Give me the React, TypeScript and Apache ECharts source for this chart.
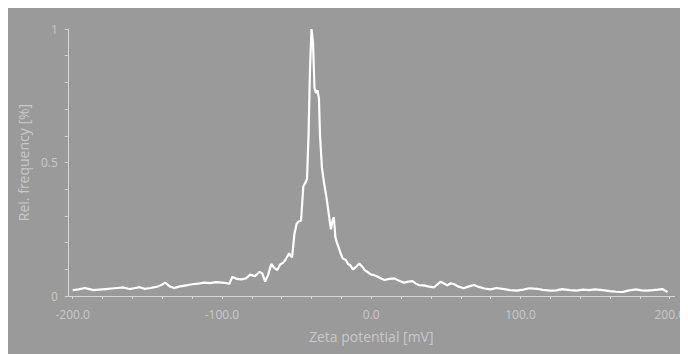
import React, { useEffect, useRef } from "react";
import * as echarts from "echarts";

const zetaMv = [
  -200, -196, -192, -189, -186, -182, -178, -174, -170, -166, -162, -158, -155, -152, -148, -144, -141, -138, -135, -132,
  -128, -124, -120, -116, -112, -108, -104, -100, -97, -95, -93, -90, -87, -84, -81, -78, -75, -73, -71, -69,
  -67, -65, -63, -61, -59, -57.5, -56, -55, -54, -53, -51.5, -50, -48.5, -47, -45.5, -44, -43, -42, -41, -40,
  -39, -38, -37, -36, -35, -34.3, -33, -31.5, -30, -28.5, -27, -26, -25, -24, -23, -22, -20.5, -19, -17, -15.5,
  -14, -12.2, -10, -8, -6, -4.4, -2, 0, 2, 4.4, 7, 9, 12, 15.6, 19, 22, 25, 27.7, 30, 32,
  35, 38, 42, 44, 46.6, 49, 51, 53, 55.5, 58, 62, 65, 68.8, 72, 76, 80, 84, 89, 93, 97.6,
  102, 106, 111, 115, 120, 124, 128, 133, 137.5, 142, 146, 150, 155, 160, 164, 168.6, 172, 177.5, 181, 185,
  188.6, 192, 195, 198.5,
];

const relFreq = [
  0.022, 0.025, 0.03, 0.026, 0.022, 0.024, 0.026, 0.028, 0.03, 0.032, 0.026, 0.03, 0.033, 0.027, 0.03, 0.034, 0.04, 0.05, 0.036, 0.03,
  0.036, 0.04, 0.044, 0.046, 0.05, 0.048, 0.052, 0.05, 0.048, 0.046, 0.072, 0.064, 0.062, 0.066, 0.08, 0.074, 0.09, 0.085, 0.054, 0.08,
  0.12, 0.105, 0.097, 0.118, 0.125, 0.135, 0.15, 0.16, 0.15, 0.145, 0.23, 0.27, 0.28, 0.282, 0.41, 0.425, 0.44, 0.6, 0.85, 1.0,
  0.95, 0.78, 0.76, 0.77, 0.74, 0.6, 0.48, 0.42, 0.37, 0.31, 0.25, 0.28, 0.295, 0.22, 0.2, 0.185, 0.16, 0.14, 0.135, 0.12,
  0.115, 0.1, 0.11, 0.122, 0.11, 0.097, 0.088, 0.08, 0.078, 0.072, 0.065, 0.06, 0.064, 0.066, 0.056, 0.05, 0.054, 0.056, 0.046, 0.041,
  0.04, 0.036, 0.032, 0.042, 0.054, 0.046, 0.04, 0.047, 0.045, 0.036, 0.029, 0.035, 0.041, 0.034, 0.028, 0.025, 0.03, 0.026, 0.022, 0.02,
  0.024, 0.029, 0.027, 0.023, 0.02, 0.021, 0.026, 0.022, 0.02, 0.024, 0.022, 0.025, 0.022, 0.018, 0.016, 0.015, 0.02, 0.025, 0.021, 0.02,
  0.022, 0.024, 0.026, 0.015,
];

const xTickValues = [-200, -180, -160, -140, -120, -100, -80, -60, -40, -20, 0, 20, 40, 60, 80, 100, 120, 140, 160, 180, 200];
const xLabelValues = [-200, -100, 0, 100, 200];
const yLabelValues = [0, 0.5, 1];

const TEXT = "#c9c9c9";
const AXIS = "#d6d6d6";
const FONT = "'Open Sans', 'Noto Sans', sans-serif";

export default function App() {
  const ref = useRef<HTMLDivElement>(null);
  useEffect(() => {
    if (!ref.current) return;
    const chart = echarts.init(ref.current, undefined, { renderer: "svg" });
    chart.setOption({
      animation: false,
      backgroundColor: "#9a9a9a",
      grid: { left: 59, right: 11, top: 22, bottom: 58 },
      xAxis: {
        type: "value",
        min: -203.3,
        max: 203.3,
        name: "Zeta potential [mV]",
        nameLocation: "middle",
        nameGap: 33,
        nameTextStyle: { color: TEXT, fontSize: 14, fontFamily: FONT },
        axisLine: { show: true, onZero: false, lineStyle: { color: AXIS, width: 1 } },
        axisTick: { show: true, length: 3, customValues: xTickValues, lineStyle: { color: AXIS } },
        axisLabel: {
          customValues: xLabelValues,
          color: TEXT,
          fontSize: 12,
          fontFamily: FONT,
          margin: 12,
          formatter: (v: number) => v.toFixed(1),
        },
        splitLine: { show: false },
      },
      yAxis: {
        type: "value",
        min: 0,
        max: 1,
        interval: 0.1,
        name: "Rel. frequency [%]",
        nameLocation: "middle",
        nameGap: 31,
        nameTextStyle: { color: TEXT, fontSize: 14, fontFamily: FONT },
        axisLine: { show: true, onZero: false, lineStyle: { color: AXIS, width: 1 } },
        axisTick: { show: true, length: 3, lineStyle: { color: AXIS } },
        axisLabel: {
          customValues: yLabelValues,
          color: TEXT,
          fontSize: 12,
          fontFamily: FONT,
          margin: 10,
          formatter: (v: number) => String(v),
        },
        splitLine: { show: false },
      },
      series: [
        {
          type: "line",
          data: zetaMv.map((x, i) => [x, relFreq[i]]),
          showSymbol: false,
          lineStyle: { color: "#ffffff", width: 2.2 },
        },
      ],
    });
    return () => chart.dispose();
  }, []);
  return <div ref={ref} style={{ width: 680, height: 347, marginTop: -1 }} />;
}
